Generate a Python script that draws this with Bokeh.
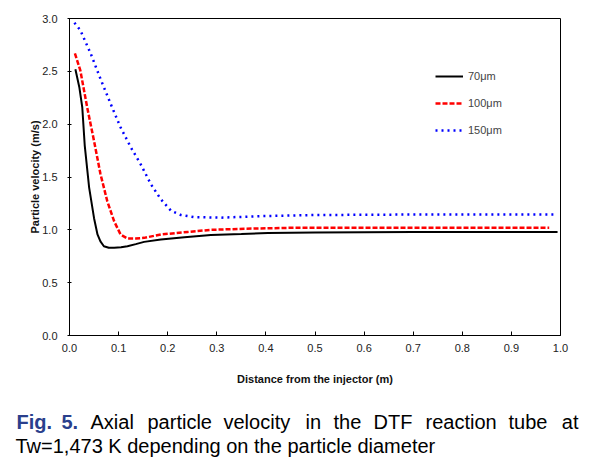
from bokeh.plotting import figure
from bokeh.layouts import column
from bokeh.models import Label, Legend, LegendItem, Range1d, FixedTicker
from bokeh.embed import file_html
from bokeh.resources import INLINE

# ---- data ----
x70 = [0.012, 0.020, 0.026, 0.031, 0.040, 0.050, 0.057, 0.063, 0.070, 0.080, 0.091, 0.105,
       0.118, 0.135, 0.152, 0.186, 0.234, 0.288, 0.350, 0.404, 0.500, 0.600, 0.700, 0.800, 0.900, 0.994]
y70 = [2.52, 2.35, 2.16, 1.80, 1.40, 1.11, 0.956, 0.89, 0.845, 0.83, 0.83, 0.835,
       0.845, 0.865, 0.886, 0.908, 0.93, 0.95, 0.96, 0.97, 0.975, 0.978, 0.98, 0.98, 0.98, 0.98]

x100 = [0.011, 0.022, 0.036, 0.050, 0.063, 0.077, 0.091, 0.104, 0.118, 0.135, 0.152, 0.186,
        0.241, 0.288, 0.356, 0.458, 0.600, 0.800, 0.977]
y100 = [2.67, 2.51, 2.16, 1.84, 1.53, 1.27, 1.08, 0.956, 0.918, 0.918, 0.924, 0.956,
        0.98, 1.00, 1.01, 1.02, 1.02, 1.02, 1.02]

x150 = [0.010, 0.022, 0.043, 0.063, 0.084, 0.104, 0.125, 0.145, 0.166, 0.186, 0.207, 0.227,
        0.254, 0.309, 0.390, 0.500, 0.700, 0.990]
y150 = [2.96, 2.89, 2.67, 2.43, 2.19, 1.97, 1.78, 1.62, 1.43, 1.29, 1.18, 1.14,
        1.12, 1.115, 1.13, 1.14, 1.145, 1.145]

series_labels = ["70\u03bcm", "100\u03bcm", "150\u03bcm"]
x_ticks = [0.0, 0.1, 0.2, 0.3, 0.4, 0.5, 0.6, 0.7, 0.8, 0.9, 1.0]
y_ticks = [0.0, 0.5, 1.0, 1.5, 2.0, 2.5, 3.0]

FONT = "Liberation Sans"

p = figure(width=590, height=395, output_backend="svg", toolbar_location=None,
           x_range=Range1d(0, 1.0), y_range=Range1d(0, 3.0),
           min_border_left=69, min_border_right=30, min_border_top=18, min_border_bottom=60)
p.frame_align = False
p.xgrid.visible = False
p.ygrid.visible = False
p.outline_line_color = "black"
p.outline_line_width = 1
p.background_fill_color = "white"
p.border_fill_color = "white"

for ax in (p.xaxis[0], p.yaxis[0]):
    ax.axis_line_color = "black"
    ax.major_tick_line_color = "black"
    ax.minor_tick_line_color = None
    ax.major_label_text_font = FONT
    ax.major_label_text_font_size = "11px"
    ax.major_label_text_color = "#222222"
    ax.axis_label_text_font = FONT
    ax.axis_label_text_font_size = "11px"
    ax.axis_label_text_font_style = "bold"
    ax.axis_label_text_color = "#111111"

p.xaxis.ticker = FixedTicker(ticks=x_ticks)
p.yaxis.ticker = FixedTicker(ticks=y_ticks)
p.xaxis.major_label_overrides = {t: f"{t:.1f}" for t in x_ticks}
p.yaxis.major_label_overrides = {t: f"{t:.1f}" for t in y_ticks}
p.xaxis.major_tick_in = 4
p.xaxis.major_tick_out = 0
p.yaxis.major_tick_in = 2
p.yaxis.major_tick_out = 2
p.xaxis.major_label_standoff = 8
p.yaxis.major_label_standoff = 10
p.xaxis.axis_label = "Distance from the injector (m)"
p.xaxis.axis_label_standoff = 18
p.yaxis.axis_label = "Particle velocity (m/s)"
p.yaxis.axis_label_standoff = -2

r1 = p.line(x70, y70, line_color="black", line_width=2)
r2 = p.line(x100, y100, line_color="#ff0000", line_width=2.5, line_dash="5 2")
r3 = p.line(x150, y150, line_color="#0000ff", line_width=2.5, line_dash="2 4")

legend = Legend(items=[LegendItem(label=series_labels[0], renderers=[r1]),
                       LegendItem(label=series_labels[1], renderers=[r2]),
                       LegendItem(label=series_labels[2], renderers=[r3])],
                location=(366, 195), orientation="vertical",
                glyph_width=28, glyph_height=20, label_height=20, spacing=7,
                padding=0, margin=0, label_standoff=5,
                label_text_font=FONT, label_text_font_size="11px",
                label_text_baseline="top",
                border_line_alpha=0, background_fill_alpha=0)
p.add_layout(legend)

# ---- caption as its own borderless figure ----
cap = figure(width=590, height=67, output_backend="svg", toolbar_location=None,
             x_range=Range1d(0, 590), y_range=Range1d(67, 0),
             min_border_left=0, min_border_right=0, min_border_top=0, min_border_bottom=0)
cap.frame_align = False
cap.axis.visible = False
cap.xgrid.visible = False
cap.ygrid.visible = False
cap.outline_line_color = None

cap_words = [("Fig.", 16, "#2a3f8c", "bold"), ("5.", 61, "#2a3f8c", "bold"),
             ("Axial", 90, "black", "normal"), ("particle", 147, "black", "normal"),
             ("velocity", 223, "black", "normal"), ("in", 305, "black", "normal"),
             ("the", 333, "black", "normal"), ("DTF", 373, "black", "normal"),
             ("reaction", 425, "black", "normal"), ("tube", 508, "black", "normal")]
L1 = 427 - 395 - 6
L2 = 451 - 395 - 6
for w, px, col, style in cap_words:
    cap.add_layout(Label(x=px, y=L1, text=w, text_align="left",
                         text_baseline="alphabetic", text_font=FONT, text_font_size="20px",
                         text_font_style=style, text_color=col))
cap.add_layout(Label(x=578, y=L1, text="at", text_align="right",
                     text_baseline="alphabetic", text_font=FONT, text_font_size="20px",
                     text_color="black"))
cap.add_layout(Label(x=15, y=L2, text="Tw=1,473 K depending on the particle diameter",
                     text_align="left", text_baseline="alphabetic", text_font=FONT,
                     text_font_size="20px", text_color="black"))

layout = column(p, cap, spacing=0)
open("out.html", "w").write(file_html(layout, INLINE))
